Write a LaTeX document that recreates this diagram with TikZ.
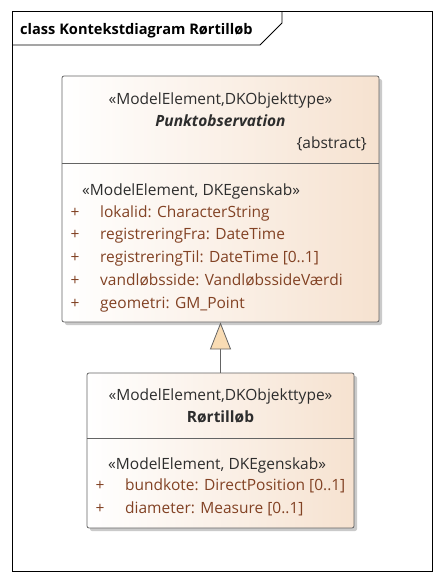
\documentclass[tikz,border=0pt]{standalone}
\usepackage{fontspec}
\setmainfont{Open Sans}
\usetikzlibrary{arrows.meta,shadows}

\definecolor{umlfill}{RGB}{246,226,208}
\definecolor{boxgray}{RGB}{100,100,100}
\definecolor{stereo}{RGB}{45,45,45}
\definecolor{attrbrown}{RGB}{130,66,36}
\definecolor{arrowfill}{RGB}{249,220,180}
\newcommand{\umlfont}{\fontsize{15.5}{18}\selectfont}

\begin{document}
\begin{tikzpicture}[x=1pt, y=-1pt,
  classbox/.style={draw=boxgray, line width=0.8pt, rounded corners=2pt, left color=white, right color=umlfill,
    drop shadow={shadow xshift=3pt, shadow yshift=-3pt, fill=black!35, opacity=0.6}},
  lbl/.style={inner sep=0pt, anchor=base, text=stereo, font=\umlfont},
  attr/.style={inner sep=0pt, anchor=base west, text=attrbrown, font=\umlfont},
  plus/.style={inner sep=0pt, anchor=base, text=attrbrown, font=\umlfont},
  gen/.style={draw=boxgray, line width=0.8pt, -{Triangle[width=21pt, length=27pt, fill=arrowfill]}}]
\useasboundingbox (0,0) rectangle (441,581);

% frame
\draw [line width=0.8pt] (12,11) rectangle (432,571);
\draw [line width=0.8pt] (12,45) -- (260,45) -- (282,23) -- (282,11);
\node [inner sep=0pt, anchor=base west, font=\fontsize{14.6}{17}\selectfont\bfseries] (title) at (20,34) {class Kontekstdiagram Rørtilløb};

% Punktobservation
\node [classbox, minimum width=317pt, minimum height=246pt] (punkt) at (220.5,199) {};
\coordinate (s1) at (0,163);
\draw [boxgray, line width=0.8pt] (punkt.west |- s1) -- (punkt.east |- s1);
\node [lbl] (st1) at (220.5,104) {«ModelElement,DKObjekttype»};
\node [lbl, font=\umlfont\bfseries\itshape] (n1) at (220.5,126) {Punktobservation};
\node [lbl, anchor=base east] (ab1) at (367,148) {\{abstract\}};
\node [lbl, anchor=base west] (eg1) at (82,195) {«ModelElement, DKEgenskab»};
\node [plus] (p1) at (75,217) {+};
\node [attr] (a1) at (100,217) {lokalid: CharacterString};
\node [plus] (p2) at (75,239.5) {+};
\node [attr] (a2) at (100,239.5) {registreringFra: DateTime};
\node [plus] (p3) at (75,262) {+};
\node [attr] (a3) at (100,262) {registreringTil: DateTime [0..1]};
\node [plus] (p4) at (75,285) {+};
\node [attr] (a4) at (100,285) {vandløbsside: VandløbssideVærdi};
\node [plus] (p5) at (75,308) {+};
\node [attr] (a5) at (100,308) {geometri: GM\_Point};

% Rørtilløb
\node [classbox, minimum width=267pt, minimum height=155pt] (roer) at (220.5,450.5) {};
\coordinate (s2) at (0,438);
\draw [boxgray, line width=0.8pt] (roer.west |- s2) -- (roer.east |- s2);
\node [lbl] (st2) at (220.5,400) {«ModelElement,DKObjekttype»};
\node [lbl, font=\umlfont\bfseries] (n2) at (220.5,422) {Rørtilløb};
\node [lbl, anchor=base west] (eg2) at (108,469) {«ModelElement, DKEgenskab»};
\node [plus] (p6) at (100,490) {+};
\node [attr] (a6) at (125,490) {bundkote: DirectPosition [0..1]};
\node [plus] (p7) at (100,513) {+};
\node [attr] (a7) at (125,513) {diameter: Measure [0..1]};

\draw [gen] (roer.north) -- (punkt.south);
\end{tikzpicture}
\end{document}
